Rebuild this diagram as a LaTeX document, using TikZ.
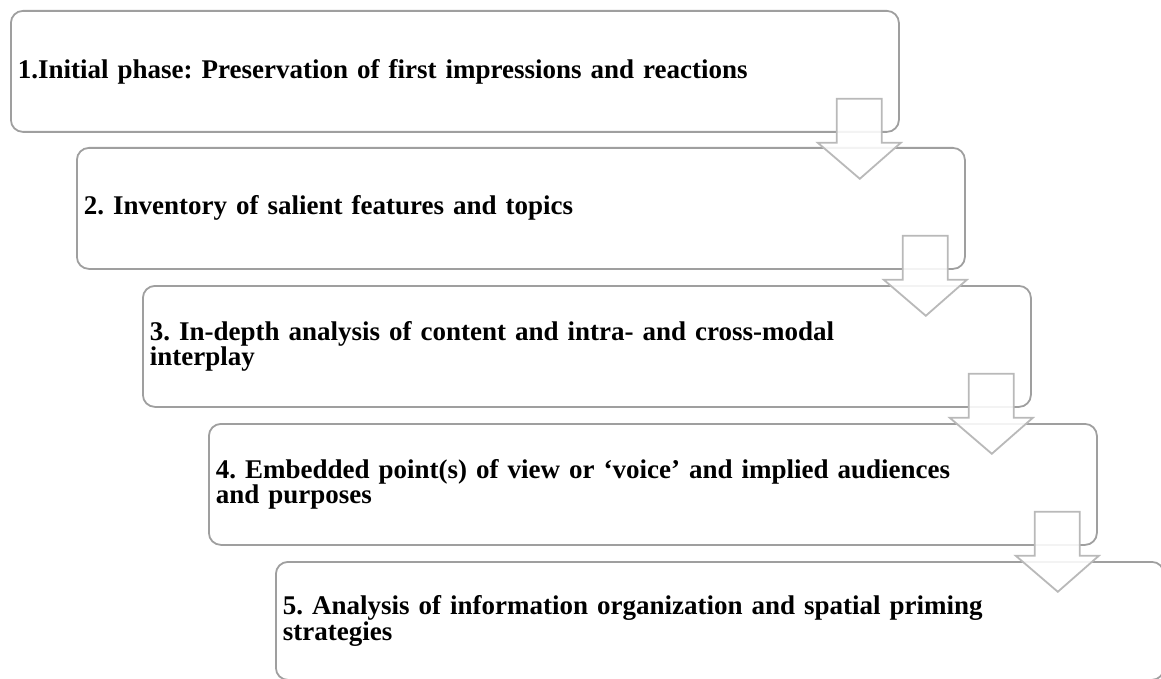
\documentclass[tikz,border=0pt]{standalone}
\usepackage{fontspec}
\setmainfont{Liberation Serif}
\usetikzlibrary{calc}
\frenchspacing
\tikzset{
  x=1pt, y=-1pt,
  phasebox/.style={draw=gray!75, line width=1.8pt, rounded corners=12pt,
    anchor=north west, minimum width=888pt, minimum height=121pt,
    text width=874pt, align=left, inner xsep=6pt,
    font=\fontsize{27}{23}\selectfont\bfseries},
  downarrow/.style={draw=gray!55, line width=1.8pt, fill=white, fill opacity=0.88}
}
\newcommand\phasearrow[1]{%
  \draw[downarrow] ($(#1.south east)+(-63,-34)$) -- ($(#1.south east)+(-18,-34)$)
    -- ($(#1.south east)+(-18,10)$) -- ($(#1.south east)+(1,10)$)
    -- ($(#1.south east)+(-40,46)$) -- ($(#1.south east)+(-82,10)$)
    -- ($(#1.south east)+(-63,10)$) -- cycle;}
\begin{document}
\begin{tikzpicture}
\useasboundingbox (0,0) rectangle (1161,679);
\node[phasebox] (p1) at (10,10) {1.Initial phase: Preservation of first impressions and reactions};
\node[phasebox] (p2) at (76,147) {2. Inventory of salient features and topics};
\node[phasebox] (p3) at (142,285) {3. In-depth analysis of content and intra- and cross-modal\\interplay};
\node[phasebox] (p4) at (208,423) {4. Embedded point(s) of view or ‘voice’ and implied audiences\\and purposes};
\node[phasebox, minimum height=118pt] (p5) at (275,561) {5. Analysis of information organization and spatial priming\\strategies};
\phasearrow{p1}
\phasearrow{p2}
\phasearrow{p3}
\phasearrow{p4}
\end{tikzpicture}
\end{document}
